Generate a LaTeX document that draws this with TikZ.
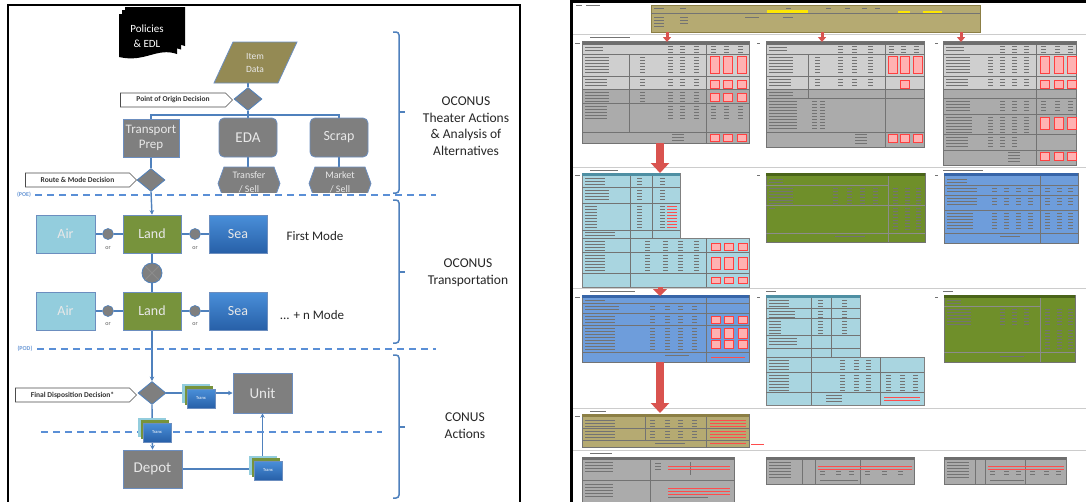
\documentclass[tikz,border=0pt]{standalone}
\usepackage{fontspec}
\setmainfont{Carlito}
\usetikzlibrary{shapes.geometric,shapes.symbols,arrows.meta,calc}
\pgfdeclarelayer{bg}
\pgfdeclarelayer{paper}
\pgfsetlayers{paper,bg,main}
\definecolor{linkc}{HTML}{4F81BD}
\definecolor{dashc}{HTML}{5A8FD6}
\definecolor{grayc}{HTML}{7F7F7F}
\definecolor{edgec}{HTML}{6C8EBF}
\definecolor{txtlight}{HTML}{E8E8E8}
\definecolor{olivec}{HTML}{948A54}
\definecolor{airc}{HTML}{93CDDD}
\definecolor{landc}{HTML}{77933C}
\definecolor{seatop}{HTML}{4A8FD9}
\definecolor{seabot}{HTML}{2760A8}
\definecolor{bluetxt}{HTML}{6A98D6}
\definecolor{darktxt}{HTML}{262626}
\definecolor{rgA}{HTML}{CFCFCF}
\definecolor{rgB}{HTML}{ABABAB}
\definecolor{rhdr}{HTML}{6E6E6E}
\definecolor{rlb}{HTML}{A9D5E0}
\definecolor{rlbh}{HTML}{4E8FA3}
\definecolor{rgreen}{HTML}{6F8F2A}
\definecolor{rgreenh}{HTML}{4A6419}
\definecolor{rblue}{HTML}{6E9DDB}
\definecolor{rblueh}{HTML}{3765A8}
\definecolor{rolive}{HTML}{B5AA72}
\definecolor{roliveh}{HTML}{8C7F45}
\definecolor{rred}{HTML}{D9534F}
\definecolor{rsep}{HTML}{CCCCCC}
\newcommand\frows[5]{\foreach \k in {0,...,#4} \draw[ftext] (#1,{#2+#5*\k}) -- ++(#3,0);}
\newcommand\rrows[5]{\foreach \k in {0,...,#4} \draw[rtext] (#1,{#2+#5*\k}) -- ++(#3,0);}
\newcommand\numcols[3]{\foreach \xx in {#1} {\frows{\xx}{#2}{5}{#3}{3}}}
\newcommand\rc[4]{\draw[draw=red!75,fill=red!30,line width=0.3pt] (#1,#2) rectangle ++(#3,#4);}
\newcommand\tranx[3]{%
  \fill[airc] ({#2-19},{#3-15}) rectangle ({#2+9},{#3+4});
  \fill[landc] ({#2-16.5},{#3-12.5}) rectangle ({#2+11.5},{#3+6.5});
  \node[tranxbox] (#1) at (#2,#3) {Tranx};}
\newcommand\docsheet[4]{%
  \fill[black] (#1,#2) -- (#3,#2) -- (#3,{#4-3})
    .. controls ({#3-0.35*(#3-#1)},{#4-10}) and ({#1+0.45*(#3-#1)},{#4+6}) .. (#1,#4) -- cycle;}
\begin{document}
\begin{tikzpicture}[x=1pt,y=-1pt,
  conn/.style={draw=linkc,line width=1.4pt},
  arr/.style={conn,-{Stealth[length=4.5pt,width=4.5pt]}},
  graybox/.style={rectangle,fill=grayc,draw=edgec,line width=0.8pt,text=txtlight,inner sep=0pt,align=center},
  rbox/.style={graybox,rounded corners=5pt},
  dia/.style={diamond,fill=grayc,draw=linkc,line width=0.8pt,inner sep=0pt,minimum width=28pt,minimum height=23pt},
  lbl/.style={signal,signal to=east,draw=black!70,fill=white,line width=0.6pt,font=\fontsize{7.5}{8}\selectfont\bfseries,text=black!80,inner sep=1pt,minimum height=14pt},
  orc/.style={circle,fill=grayc,draw=linkc,line width=0.6pt,minimum size=11pt,inner sep=0pt},
  ortext/.style={font=\fontsize{6}{7}\selectfont,text=black!65,inner sep=0pt},
  sepline/.style={draw=dashc,line width=2.2pt,dash pattern=on 7pt off 5pt},
  bracketline/.style={draw=linkc,line width=1.5pt},
  modebox/.style={rectangle,draw=edgec,line width=0.6pt,minimum width=58pt,minimum height=38pt,inner sep=0pt,font=\fontsize{14}{16}\selectfont,text=txtlight},
  seashade/.style={top color=seatop,bottom color=seabot},
  sidetext/.style={font=\fontsize{13.5}{16.5}\selectfont,text=darktxt,align=center,inner sep=0pt},
  marktext/.style={font=\fontsize{6}{7}\selectfont\bfseries,text=bluetxt,inner sep=0pt},
  tranxbox/.style={rectangle,top color=seatop,bottom color=seabot,draw=edgec,line width=0.4pt,minimum width=28pt,minimum height=19pt,inner sep=0pt,font=\fontsize{4.5}{5}\selectfont,text=white},
  ftext/.style={draw=black!55,line width=0.55pt},
  rtext/.style={draw=red!70,line width=0.55pt},
  gline/.style={draw=black!55,line width=0.5pt},
  smallarr/.style={draw=rred,line width=3pt,-{Triangle[length=5pt,width=8pt]}},
  bigarr/.style={draw=rred,line width=8pt,-{Triangle[length=10pt,width=18pt]}}
]
\useasboundingbox (0,0) rectangle (1086,501);
\begin{pgfonlayer}{paper}
\fill[white] (0,0) rectangle (1086,501);
\end{pgfonlayer}

% ===================== LEFT PANEL =====================
\draw[line width=2pt] (8,502) -- (8,5) -- (520,5) -- (520,502);

% Policies & EDL
\docsheet{125}{7}{185}{49}
\docsheet{122}{10}{181}{52.5}
\docsheet{119}{14}{177}{57}
\node[font=\fontsize{11}{15}\selectfont,text=white,align=center,inner sep=0pt] (pol) at (147,36) {Policies\\\& EDL};

% Item Data
\filldraw[fill=olivec,draw=edgec,line width=0.8pt] (214,83) -- (233,42) -- (297,42) -- (278,83) -- cycle;
\node[font=\fontsize{9.5}{13}\selectfont,text=txtlight,align=center,inner sep=0pt] (item) at (255,62.5) {Item\\Data};
\coordinate (itemb) at (248,83);

\node[dia] (d1) at (248,99) {};
\node[lbl,minimum width=112pt] (poo) at (173,100) {Point of Origin Decision};
\coordinate (bus) at (0,115);

\node[graybox,minimum width=56pt,minimum height=38pt,font=\fontsize{13}{15}\selectfont] (tp) at (151,138) {Transport\\Prep};
\node[rbox,minimum width=58pt,minimum height=39pt,font=\fontsize{15}{17}\selectfont] (eda) at (248,137.5) {EDA};
\node[rbox,minimum width=58pt,minimum height=39pt,font=\fontsize{14}{17}\selectfont] (scrap) at (339,137.5) {Scrap};

\begin{scope}
  \clip (200,160) rectangle (400,192);
  \filldraw[fill=grayc,draw=edgec,line width=0.8pt] (218,183.5) -- (224,167) -- (274,167) -- (280,183.5) -- (274,200) -- (224,200) -- cycle;
  \filldraw[fill=grayc,draw=edgec,line width=0.8pt] (309,183.5) -- (315,167) -- (365,167) -- (371,183.5) -- (365,200) -- (315,200) -- cycle;
  \node[font=\fontsize{10}{14}\selectfont,text=txtlight,align=center,inner sep=0pt] (hx1) at (249,182) {Transfer\\/ Sell};
  \node[font=\fontsize{10}{14}\selectfont,text=txtlight,align=center,inner sep=0pt] (hx2) at (340,182) {Market\\/ Sell};
\end{scope}
\coordinate (hx1t) at (248,167);
\coordinate (hx2t) at (339,167);

\node[dia] (d2) at (151,180) {};
\node[lbl,minimum width=111pt] (rmd) at (77.5,180) {Route \& Mode Decision};

% POE
\node[marktext] (poe) at (24,195) {(POE)};
\draw[sepline] (35,195) -- (436,195);

% brackets and side texts
\draw[bracketline,rounded corners=3pt] (393,32) -| (399,193) -- (393,193);
\draw[bracketline] (399,112) -- (405,112);
\draw[bracketline,rounded corners=3pt] (393,200) -| (399,343) -- (393,343);
\draw[bracketline] (399,272) -- (405,272);
\draw[bracketline,rounded corners=3pt] (393,355) -| (399,498) -- (393,498);
\draw[bracketline] (399,427) -- (405,427);
\node[sidetext] (t1txt) at (466,126) {OCONUS\\Theater Actions\\\& Analysis of\\Alternatives};
\node[sidetext] (t2txt) at (468,272.5) {OCONUS\\Transportation};
\node[sidetext] (t3txt) at (465,425.5) {CONUS\\Actions};

% Row 1
\node[modebox,fill=airc,minimum width=59pt] (air1) at (65.5,234) {Air};
\node[modebox,fill=landc] (land1) at (152,234) {Land};
\node[modebox,seashade] (sea1) at (238,234) {Sea};
\node[orc] (or1) at (108,234) {};
\node[orc] (or2) at (195,234) {};
\node[ortext] (or1t) at (108,248) {or};
\node[ortext] (or2t) at (195,248) {or};
\node[font=\fontsize{13}{15}\selectfont,text=darktxt,inner sep=0pt] (fm) at (315,236) {First Mode};

\node[circle,fill=grayc,draw=linkc,line width=0.8pt,minimum size=20pt,inner sep=0pt] (cx) at (152,273) {};
\draw[draw=black!45,line width=1pt] (cx.north east) -- (cx.south west) (cx.north west) -- (cx.south east);

% Row 2
\node[modebox,fill=airc,minimum width=59pt] (air2) at (65.5,311) {Air};
\node[modebox,fill=landc] (land2) at (152,311) {Land};
\node[modebox,seashade] (sea2) at (238,311) {Sea};
\node[orc] (or3) at (108,311) {};
\node[orc] (or4) at (195,311) {};
\node[ortext] (or3t) at (108,324) {or};
\node[ortext] (or4t) at (195,324) {or};
\node[font=\fontsize{13}{15}\selectfont,text=darktxt,inner sep=0pt] (nm) at (312,315) {... + n Mode};

% POD
\node[marktext] (pod) at (25,349) {(POD)};
\draw[sepline] (37,349) -- (436,349);

% CONUS
\node[dia] (d3) at (152,393) {};
\node[lbl,minimum width=121pt] (fdd) at (72.5,395) {Final Disposition Decision*};
\node[graybox,minimum width=59pt,minimum height=40pt,font=\fontsize{15}{17}\selectfont] (unit) at (262.5,393) {Unit};
\node[graybox,minimum width=59pt,minimum height=38pt,font=\fontsize{15}{17}\selectfont] (depot) at (152.5,469) {Depot};
\draw[sepline] (41,432) -- (382,432);

% connectors
\begin{pgfonlayer}{bg}
\draw[conn] (itemb) -- (d1.north);
\draw[conn] (d1.south) -- (eda.north);
\draw[conn] (tp.north) -- (tp.north |- bus) -- (scrap.north |- bus) -- (scrap.north);
\draw[conn] (eda.south) -- (hx1t);
\draw[conn] (scrap.south) -- (hx2t);
\draw[conn] (tp.south) -- (d2.north);
\draw[arr] (d2.south) -- (land1.north);
\draw[conn] (air1) -- (or1) -- (land1) -- (or2) -- (sea1);
\draw[conn] (land1.south) -- (cx.north);
\draw[conn] (cx.south) -- (land2.north);
\draw[conn] (air2) -- (or3) -- (land2) -- (or4) -- (sea2);
\draw[arr] (land2.south) -- (d3.north);
\draw[arr] (d3.east) -- (unit.west);
\draw[arr] (d3.south) -- (depot.north);
\draw[arr] (depot.east) -| (unit.south);
\end{pgfonlayer}

\tranx{tx1}{201}{398.5}
\tranx{tx2}{157}{432.5}
\tranx{tx3}{268}{470.5}

% ===================== RIGHT PANEL =====================
\draw[line width=3pt] (571.5,502) -- (571.5,1.5) -- (1086,1.5);
\foreach \yy in {34,167,288,408,450} \draw[rsep,line width=1pt] (573,\yy) -- (1086,\yy);
% tiny headings and row markers
\draw[ftext] (576,5) -- ++(6,0) (586,5) -- ++(14,0);
\foreach \yy/\ll in {37.5/40,170.5/28,291.5/45,411/16,453/22} \draw[ftext] (590,\yy) -- ++(\ll,0);
\foreach \yy in {43,175,297,416} \draw[ftext] (575,\yy) -- ++(5,0);
\foreach \xx in {757,935} {\draw[ftext] (\xx,43) -- ++(3,0); \draw[ftext] (\xx,175) -- ++(3,0); \draw[ftext] (\xx,297) -- ++(3,0);}
\draw[ftext] (943,170.5) -- ++(40,0) (766,291.5) -- ++(10,0) (943,291.5) -- ++(10,0);

% header block
\filldraw[fill=rolive,draw=roliveh,line width=0.5pt] (651,5) rectangle (980,32);
\draw[gline] (651,13.5) -- (980,13.5);
\fill[yellow!90!orange] (767,10) rectangle (808,12.5);
\fill[yellow!90!orange] (898,10.5) rectangle (910,12.8);
\fill[yellow!90!orange] (923,10.5) rectangle (942,12.8);
\frows{654}{8}{10}{0}{3}
\frows{680}{8}{6}{0}{3}
\frows{654}{17}{10}{3}{3}
\frows{680}{17}{8}{2}{3}
\frows{745}{17}{14}{0}{3}
\frows{783}{17}{10}{0}{3}
\foreach \xx in {786,826,845,862,875} \draw[ftext] (\xx,8) -- ++(5,0);

% Block A
\fill[rgA] (582,41) rectangle (749,89);
\fill[rgB] (582,89) rectangle (749,143);
\fill[rhdr] (582,41) rectangle (749,44.5);
\draw[gline] (582,41) rectangle (749,143) (706,44.5) -- (706,143) (629,54) -- (629,132)
  (582,54) -- (749,54) (582,76) -- (749,76) (582,89) -- (749,89) (582,103) -- (749,103) (582,132) -- (749,132);
\frows{585}{47.5}{18}{1}{3}
\frows{585}{57}{24}{5}{3}
\frows{585}{79}{22}{2}{3}
\frows{585}{92}{24}{3}{3}
\frows{585}{106}{22}{4}{3}
\numcols{640,668,680,694}{57}{5}
\numcols{668,680,694}{46}{2}
\numcols{640,668,680,694}{79}{2}
\numcols{640,668,680,694}{92}{3}
\numcols{668,680,694}{106}{4}
\frows{672}{134}{12}{2}{3}
\foreach \xx in {710,723,737} {\rc{\xx}{56}{9}{17} \rc{\xx}{80}{9}{8} \rc{\xx}{93}{9}{8} \rc{\xx}{134}{9}{7}}
\numcols{711,724,738}{46}{2}
\numcols{711,724,738}{106}{4}

% Block B
\fill[rgA] (766,41) rectangle (924,89);
\fill[rgB] (766,89) rectangle (924,147);
\fill[rhdr] (766,41) rectangle (924,44.5);
\draw[gline] (766,41) rectangle (924,147) (885,44.5) -- (885,147) (808,54) -- (808,98)
  (766,54) -- (924,54) (766,76) -- (924,76) (766,89) -- (924,89) (766,98) -- (924,98) (766,132) -- (924,132);
\frows{769}{47.5}{18}{1}{3}
\frows{769}{57}{24}{5}{3}
\frows{769}{79}{22}{2}{3}
\frows{769}{92}{24}{1}{3}
\frows{769}{101}{28}{9}{3}
\numcols{815,838,852,868}{57}{5}
\numcols{838,852,868}{46}{2}
\numcols{815,838,852,868}{79}{2}
\numcols{812,820}{101}{9}
\frows{855}{134}{12}{3}{3}
\foreach \xx in {888,900,913} {\rc{\xx}{56}{9}{17} \rc{\xx}{134}{9}{8}}
\rc{900}{80}{9}{8}
\numcols{889,901,914}{46}{2}

% Block C
\fill[rgA] (943,41) rectangle (1076,89);
\fill[rgB] (943,89) rectangle (1076,165);
\fill[rhdr] (943,41) rectangle (1076,44.5);
\draw[gline] (943,41) rectangle (1076,165) (1036,44.5) -- (1036,165)
  (943,54) -- (1076,54) (943,76) -- (1076,76) (943,89) -- (1076,89) (943,98) -- (1076,98) (943,114) -- (1076,114) (943,134) -- (1076,134) (943,150) -- (1076,150);
\frows{946}{47.5}{18}{1}{3}
\frows{946}{57}{24}{5}{3}
\frows{946}{79}{22}{2}{3}
\frows{946}{101}{24}{3}{3}
\frows{946}{117}{26}{5}{3}
\frows{946}{137}{22}{3}{3}
\numcols{988,1000,1012,1024}{57}{5}
\numcols{1000,1012,1024}{46}{2}
\numcols{988,1000,1012,1024}{79}{2}
\numcols{1000,1012,1024}{101}{3}
\numcols{988,1000,1012,1024}{117}{5}
\numcols{988,1000,1012}{137}{3}
\frows{1008}{152}{12}{3}{3}
\foreach \xx in {1040,1054,1067} {\rc{\xx}{56}{9}{17} \rc{\xx}{80}{9}{8} \rc{\xx}{117}{9}{12} \rc{\xx}{152}{9}{8}}
\numcols{1041,1055,1068}{46}{2}
\numcols{1041,1055,1068}{101}{3}

% Block D (light blue L)
\filldraw[fill=rlb,draw=black!50,line width=0.5pt] (582,173) -- (680,173) -- (680,238) -- (749,238) -- (749,287) -- (582,287) -- cycle;
\fill[rlbh] (582,173) rectangle (680,175.5);
\draw[gline] (630,175.5) -- (630,287) (652,175.5) -- (652,238) (706,238) -- (706,287)
  (582,187) -- (680,187) (582,203) -- (680,203) (582,230) -- (680,230) (582,238) -- (680,238) (582,252) -- (749,252) (582,273) -- (749,273);
\frows{585}{178}{20}{2}{3}
\frows{585}{190}{24}{3}{3}
\frows{585}{206}{12}{7}{3}
\frows{585}{232}{30}{1}{3}
\frows{585}{241}{20}{3}{3}
\frows{585}{255}{20}{5}{3}
\numcols{637,660}{178}{2}
\numcols{637,660}{190}{3}
\numcols{637,660}{206}{7}
\numcols{645,663,678,694}{241}{3}
\numcols{645,663,678,694}{255}{5}
\rrows{667}{206}{10}{7}{3}
\foreach \xx in {711,724,738} {\rc{\xx}{243}{9}{7} \rc{\xx}{257}{9}{12} \rc{\xx}{277}{9}{6}}

% Block E (green)
\filldraw[fill=rgreen,draw=black!55,line width=0.5pt] (766,173) rectangle (925,242);
\fill[rgreenh] (766,173) rectangle (925,176);
\draw[draw=black!45,line width=0.5pt] (888,176) -- (888,242) (766,233) -- (925,233) (766,185) -- (888,185) (766,205) -- (925,205);
\frows{769}{179}{14}{1}{3}
\frows{769}{188}{24}{5}{3}
\frows{769}{208}{6}{0}{3}
\numcols{833,847,860,873,893,905,916}{188}{5}
\numcols{893,905,916}{208}{7}
\frows{835}{236}{30}{0}{3}

% Block F (blue)
\filldraw[fill=rblue,draw=black!55,line width=0.5pt] (944,173) rectangle (1078,243);
\fill[rblueh] (944,173) rectangle (1078,176);
\draw[gline] (1040,176) -- (1040,243) (944,185) -- (1078,185) (944,195) -- (1078,195) (944,210) -- (1078,210) (944,233) -- (1078,233);
\frows{947}{179}{20}{1}{3}
\frows{947}{188}{30}{1}{3}
\frows{947}{198}{30}{2}{3}
\frows{947}{213}{26}{5}{3}
\numcols{992,1004,1016,1028,1045,1057,1068}{188}{1}
\numcols{992,1004,1016,1028,1045,1057,1068}{198}{2}
\numcols{992,1004,1016,1028,1045,1057,1068}{213}{5}
\frows{1000}{236}{20}{0}{3}

% Block G (blue)
\filldraw[fill=rblue,draw=black!55,line width=0.5pt] (582,295) rectangle (749,362);
\fill[rblueh] (582,295) rectangle (749,298);
\draw[gline] (706,298) -- (706,362) (582,303) -- (749,303) (582,313) -- (749,313) (582,325) -- (749,325) (582,352) -- (749,352);
\frows{585}{300}{20}{0}{3}
\frows{585}{306}{34}{1}{3}
\frows{585}{316}{30}{2}{3}
\frows{585}{328}{30}{7}{3}
\numcols{650,665,678,692}{306}{1}
\numcols{650,665,678,692}{316}{2}
\numcols{650,665,678,692}{328}{7}
\foreach \xx in {711,724,738} {\rc{\xx}{316}{9}{7} \rc{\xx}{328}{9}{10} \rc{\xx}{340}{9}{8}}
\frows{665}{355}{24}{0}{3}
\rrows{711}{357}{34}{0}{3}

% Block H (light blue L)
\filldraw[fill=rlb,draw=black!50,line width=0.5pt] (766,295) -- (860,295) -- (860,357) -- (924,357) -- (924,405) -- (766,405) -- cycle;
\fill[rlbh] (766,295) rectangle (860,297.5);
\draw[gline] (811,297.5) -- (811,405) (831,297.5) -- (831,357) (880,357) -- (880,405)
  (766,308) -- (860,308) (766,318) -- (860,318) (766,335) -- (860,335) (766,348) -- (860,348) (766,357) -- (860,357) (766,372) -- (924,372) (766,392) -- (924,392);
\frows{769}{300}{20}{2}{3}
\frows{769}{311}{26}{2}{3}
\frows{769}{321}{12}{4}{3}
\frows{769}{338}{28}{2}{3}
\frows{769}{360}{20}{3}{3}
\frows{769}{375}{20}{5}{3}
\numcols{818,842}{300}{2}
\numcols{818,842}{311}{2}
\numcols{818,842}{321}{4}
\numcols{840,854,866}{360}{3}
\numcols{840,854,866,886,900,913}{375}{5}
\frows{826}{395}{16}{2}{3}
\rrows{884}{397}{36}{1}{3}

% Block I (green)
\filldraw[fill=rgreen,draw=black!55,line width=0.5pt] (944,295) rectangle (1075,362);
\fill[rgreenh] (944,295) rectangle (1075,298);
\draw[draw=black!45,line width=0.5pt] (1040,298) -- (1040,362) (944,352) -- (1075,352) (944,306) -- (1040,306);
\frows{947}{300}{14}{1}{3}
\frows{947}{309}{24}{5}{3}
\numcols{1000,1012,1024,1045,1057,1068}{309}{5}
\numcols{1045,1057,1068}{330}{6}
\frows{1000}{356}{24}{0}{3}

% Block J (olive)
\filldraw[fill=rolive,draw=black!55,line width=0.5pt] (582,414) rectangle (749,447);
\fill[roliveh] (582,414) rectangle (749,417);
\draw[gline] (706,417) -- (706,447) (582,428) -- (749,428) (582,440) -- (749,440) (645,417) -- (645,440);
\frows{585}{420}{30}{2}{3}
\frows{585}{431}{30}{2}{3}
\numcols{650,665,678,692}{420}{2}
\numcols{650,665,678,692}{431}{2}
\rrows{710}{420}{36}{2}{3}
\rrows{710}{431}{36}{2}{3}
\frows{655}{443}{30}{0}{3}
\rrows{710}{443}{36}{0}{3}
\draw[rtext] (751,444) -- ++(13,0);

% Block K
\filldraw[fill=rgB,draw=black!55,line width=0.5pt] (582,457) rectangle (734,502);
\fill[rhdr] (582,457) rectangle (734,459.5);
\draw[gline] (650,459.5) -- (650,502) (690,462) -- (690,475) (582,480) -- (734,480);
\frows{585}{462}{28}{3}{3}
\frows{585}{484}{28}{4}{3}
\frows{655}{463}{6}{2}{3}
\rrows{668}{466}{62}{1}{3}
\rrows{668}{488}{62}{2}{3}
\frows{668}{497}{40}{0}{3}

% Block L
\filldraw[fill=rgB,draw=black!55,line width=0.5pt] (766,457) rectangle (914,484);
\fill[rhdr] (766,457) rectangle (914,459.5);
\draw[gline] (802,459.5) -- (802,484) (815,459.5) -- (815,484) (860,459.5) -- (860,484);
\frows{769}{462}{22}{5}{3}
\rrows{818}{466}{94}{1}{3}
\numcols{820,836,849,865,882,898}{471}{1}
\frows{820}{480}{38}{0}{3}

% Block M
\filldraw[fill=rgB,draw=black!55,line width=0.5pt] (944,457) rectangle (1066,484);
\fill[rhdr] (944,457) rectangle (1066,459.5);
\draw[gline] (975,459.5) -- (975,484) (985,459.5) -- (985,484) (1025,459.5) -- (1025,484);
\frows{947}{462}{22}{5}{3}
\rrows{988}{466}{76}{1}{3}
\numcols{990,1004,1016,1030,1044,1056}{471}{1}
\frows{990}{480}{34}{0}{3}

% red arrows
\coordinate (ha1) at (667,32); \coordinate (hb1) at (667,42);
\coordinate (ha2) at (822,32); \coordinate (hb2) at (822,42);
\coordinate (ha3) at (961,32); \coordinate (hb3) at (961,42);
\draw[smallarr] (ha1) -- (hb1);
\draw[smallarr] (ha2) -- (hb2);
\draw[smallarr] (ha3) -- (hb3);
\coordinate (bA1) at (660,143); \coordinate (bD1) at (660,173);
\coordinate (bD2) at (660,287); \coordinate (bG1) at (660,296);
\coordinate (bG2) at (660,362); \coordinate (bJ1) at (660,413);
\draw[bigarr] (bA1) -- (bD1);
\draw[draw=rred,line width=5pt,-{Triangle[length=7pt,width=14pt]}] (bD2) -- (bG1);
\draw[bigarr] (bG2) -- (bJ1);
\end{tikzpicture}
\end{document}
